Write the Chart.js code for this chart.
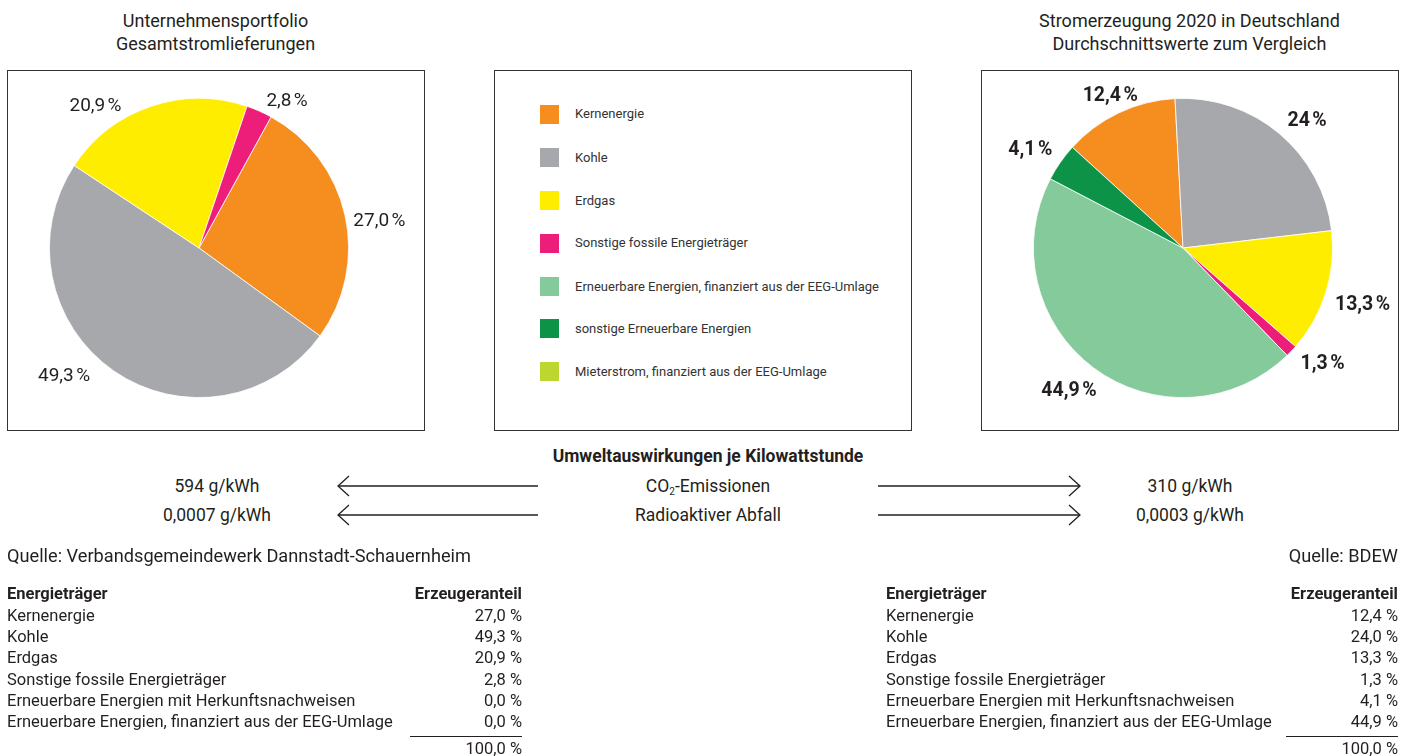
<!DOCTYPE html>
<html>
<head>
<meta charset="utf-8">
<script src="https://cdn.jsdelivr.net/npm/chart.js@4.4.1/dist/chart.umd.min.js"></script>
<style>
  html,body{margin:0;padding:0;background:#fff;}
  body{width:1402px;height:756px;overflow:hidden;position:relative;font-family:Roboto,"Noto Sans",sans-serif;color:#231f20;}
  .abs{position:absolute;white-space:nowrap;}
  .box{position:absolute;border:1px solid #333;box-sizing:border-box;}
  .title{font-size:18px;line-height:22.7px;text-align:center;}
  .leg-sq{position:absolute;width:19px;height:19px;}
  .leg-tx{position:absolute;font-size:13px;line-height:16px;color:#333;white-space:nowrap;}
  .mid{font-size:17.5px;line-height:22px;text-align:center;}
  .tbl{font-size:16.5px;line-height:21.3px;}
  sub{font-size:10px;vertical-align:-3px;line-height:0;}
</style>
</head>
<body>
<script>
// ---------- DATA ----------
const categories = [
  "Kernenergie",
  "Kohle",
  "Erdgas",
  "Sonstige fossile Energieträger",
  "Erneuerbare Energien, finanziert aus der EEG-Umlage",
  "sonstige Erneuerbare Energien",
  "Mieterstrom, finanziert aus der EEG-Umlage"
];
const categoryColors = ["#F68D1F","#A7A8AB","#FFED00","#EC1E79","#84CA9A","#0D9347","#BDD630"];
const portfolioValues = [27.0, 49.3, 20.9, 2.8, 0, 0, 0];
const portfolioLabels = ["27,0\u202F%","49,3\u202F%","20,9\u202F%","2,8\u202F%","","",""];
const germanyValues = [12.4, 24.0, 13.3, 1.3, 44.9, 4.1, 0];
const germanyLabels = ["12,4\u202F%","24\u202F%","13,3\u202F%","1,3\u202F%","44,9\u202F%","4,1\u202F%",""];

const tableRows = [
  "Kernenergie",
  "Kohle",
  "Erdgas",
  "Sonstige fossile Energieträger",
  "Erneuerbare Energien mit Herkunftsnachweisen",
  "Erneuerbare Energien, finanziert aus der EEG-Umlage"
];
const portfolioTable = ["27,0 %","49,3 %","20,9 %","2,8 %","0,0 %","0,0 %"];
const germanyTable = ["12,4 %","24,0 %","13,3 %","1,3 %","4,1 %","44,9 %"];
const tableTotal = "100,0 %";

const impactRows = ["CO<sub>2</sub>-Emissionen","Radioaktiver Abfall"];
const portfolioImpact = ["594 g/kWh","0,0007 g/kWh"];
const germanyImpact = ["310 g/kWh","0,0003 g/kWh"];

// ---------- LAYOUT HELPERS ----------
function el(tag, cls, style, html){
  const e=document.createElement(tag); if(cls) e.className=cls;
  Object.assign(e.style, style||{}); if(html!==undefined) e.innerHTML=html;
  document.body.appendChild(e); return e;
}

// Titles
el('div','abs title',{left:'7px',width:'417px',top:'10px'},'Unternehmensportfolio<br>Gesamtstromlieferungen');
el('div','abs title',{left:'981px',width:'417px',top:'10px'},'Stromerzeugung 2020 in Deutschland<br>Durchschnittswerte zum Vergleich');

// Boxes
const boxL = el('div','box',{left:'7px',top:'70px',width:'418px',height:'361px'});
const boxM = el('div','box',{left:'494px',top:'70px',width:'418px',height:'361px'});
const boxR = el('div','box',{left:'981px',top:'70px',width:'418px',height:'361px'});

// Legend
const legendY = [114.3,157.7,200.7,243.3,286.7,328.7,371.7];
categories.forEach((c,i)=>{
  el('div','leg-sq',{left:'540px',top:(legendY[i]-9.5)+'px',background:categoryColors[i]});
  el('div','leg-tx',{left:'575px',top:(legendY[i]-8)+'px'},c);
});

// Impact section
el('div','abs mid',{left:'408px',width:'600px',top:'445px',fontWeight:'700'},'Umweltauswirkungen je Kilowattstunde');
const impY=[486,515];
impactRows.forEach((r,i)=>{
  el('div','abs mid',{left:'558px',width:'300px',top:(impY[i]-11)+'px'},r);
  el('div','abs mid',{left:'67px',width:'300px',top:(impY[i]-11)+'px'},portfolioImpact[i]);
  el('div','abs mid',{left:'1040px',width:'300px',top:(impY[i]-11)+'px'},germanyImpact[i]);
});
// arrows
const svgNS='http://www.w3.org/2000/svg';
const svg=document.createElementNS(svgNS,'svg');
svg.setAttribute('width','1402');svg.setAttribute('height','756');
svg.style.position='absolute';svg.style.left='0';svg.style.top='0';svg.style.pointerEvents='none';
document.body.appendChild(svg);
function pl(pts){const p=document.createElementNS(svgNS,'polyline');p.setAttribute('points',pts);p.setAttribute('fill','none');p.setAttribute('stroke','#231f20');p.setAttribute('stroke-width','1.3');svg.appendChild(p);}
impY.forEach(y=>{
  pl(`338,${y} 538,${y}`); pl(`349,${y-10} 338,${y} 349,${y+10}`);
  pl(`878,${y} 1080,${y}`); pl(`1069,${y-10} 1080,${y} 1069,${y+10}`);
});

// Sources
el('div','abs',{left:'7px',top:'545px',fontSize:'18.2px',lineHeight:'22px'},'Quelle: Verbandsgemeindewerk Dannstadt-Schauernheim');
el('div','abs',{right:'4px',top:'545px',fontSize:'18.2px',lineHeight:'22px'},'Quelle: BDEW');

// Tables
function table(left,width,vals){
  const top0=594-10.65;
  el('div','abs tbl',{left:left+'px',top:top0+'px',fontWeight:'700'},'Energieträger');
  el('div','abs tbl',{left:left+'px',width:width+'px',textAlign:'right',top:top0+'px',fontWeight:'700'},'Erzeugeranteil');
  tableRows.forEach((r,i)=>{
    const t=top0+21.3*(i+1);
    el('div','abs tbl',{left:left+'px',top:t+'px'},r);
    el('div','abs tbl',{left:left+'px',width:width+'px',textAlign:'right',top:t+'px'},vals[i]);
  });
  el('div','abs',{left:(left+width-112)+'px',width:'112px',top:'736px',height:'0',borderTop:'1.3px solid #231f20'});
  el('div','abs tbl',{left:left+'px',width:width+'px',textAlign:'right',top:(749-10.65)+'px'},tableTotal);
}
table(7,515,portfolioTable);
table(886,512,germanyTable);

// ---------- CHARTS ----------
const pieLabelPlugin = {
  id:'pieLabels',
  afterDatasetsDraw(chart, args, opts){
    const ctx=chart.ctx;
    const meta=chart.getDatasetMeta(0);
    ctx.save();
    ctx.font=opts.font;
    ctx.fillStyle=opts.color;
    ctx.textAlign='center';
    ctx.textBaseline='middle';
    meta.data.forEach((arc,i)=>{
      const txt=opts.labels[i];
      const v=chart.data.datasets[0].data[i];
      if(!txt||!v) return;
      const p=arc.getProps(['x','y','startAngle','endAngle','outerRadius'],true);
      const shift=((opts.angleShift&&opts.angleShift[i])||0)*Math.PI/180;
      const a=(p.startAngle+p.endAngle)/2+shift;
      const w=ctx.measureText(txt).width, h=opts.textHeight;
      const pad=opts.pad+((opts.padShift&&opts.padShift[i])||0);
      const d=p.outerRadius+pad+Math.abs(Math.cos(a))*w/2+Math.abs(Math.sin(a))*h/2;
      ctx.fillText(txt,p.x+Math.cos(a)*d,p.y+Math.sin(a)*d+1);
    });
    ctx.restore();
  }
};

function makePie(box, values, labels, rotation, padding, labelOpts){
  const c=document.createElement('canvas');
  c.width=416;c.height=359;
  c.style.position='absolute';c.style.left='0';c.style.top='0';
  c.style.width='416px';c.style.height='359px';
  box.appendChild(c);
  return new Chart(c,{
    type:'pie',
    data:{labels:categories,datasets:[{data:values,backgroundColor:categoryColors,borderColor:'#ffffff',borderWidth:0.8}]},
    options:{
      responsive:false,animation:false,rotation:rotation,
      layout:{padding:padding},
      plugins:{legend:{display:false},tooltip:{enabled:false},pieLabels:labelOpts}
    },
    plugins:[pieLabelPlugin]
  });
}

makePie(boxL, portfolioValues, portfolioLabels, 28.8,
  {left:41,right:75,top:27,bottom:32},
  {labels:portfolioLabels,font:'400 19px Roboto',color:'#231f20',pad:6,textHeight:14,
   angleShift:[4,12,-17,7,0,0,0],padShift:[0,6,0,0,0,0,0]});
makePie(boxR, germanyValues, germanyLabels, -47.7,
  {left:51,right:65,top:27,bottom:32},
  {labels:germanyLabels,font:'700 19.5px Roboto',color:'#231f20',pad:10,textHeight:14,
   angleShift:[0,4,0,-4,2,-2,0],padShift:[-8,0,0,0,0,0,0]});
</script>
</body>
</html>
